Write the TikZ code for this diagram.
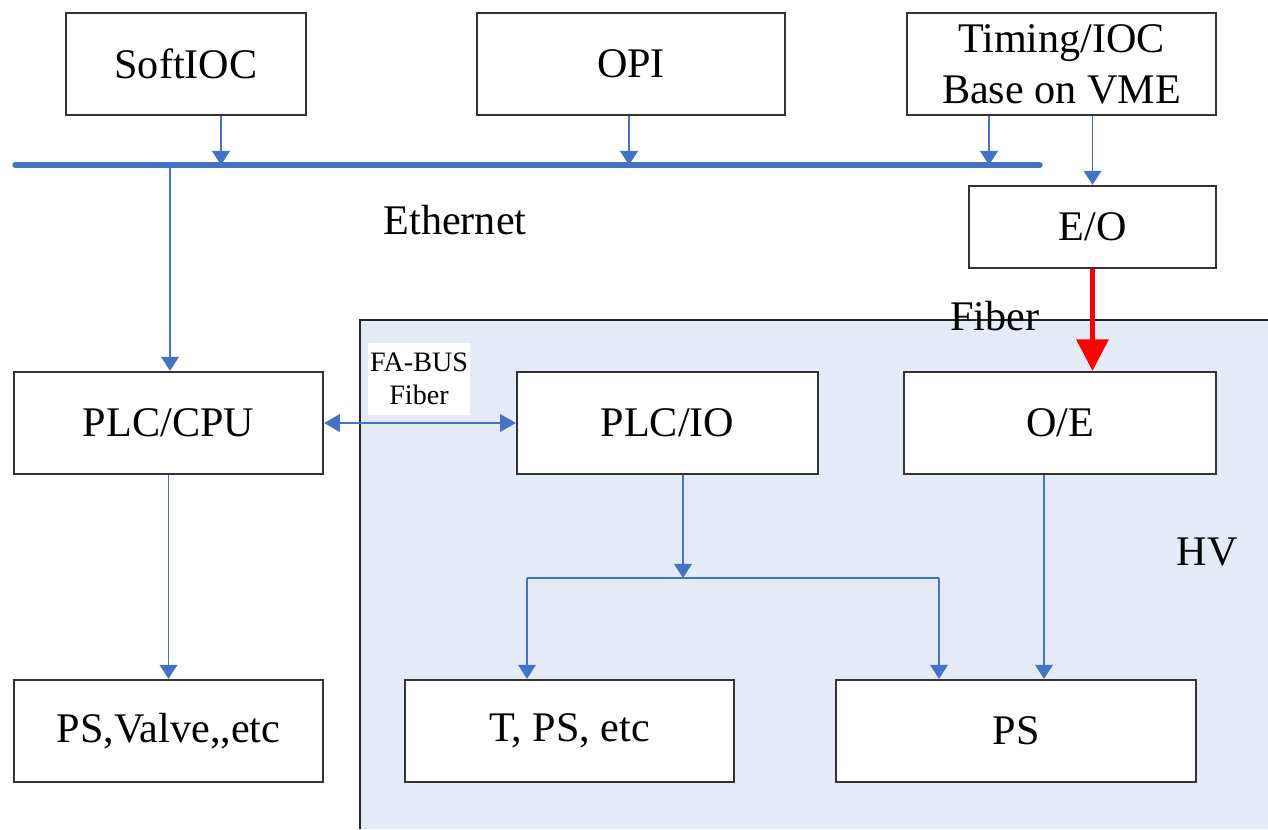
\documentclass[tikz,border=0pt]{standalone}
\usepackage{fontspec}
\setmainfont{Liberation Serif}
\usetikzlibrary{arrows.meta}
\definecolor{linkblue}{RGB}{68,114,196}
\definecolor{hvfill}{RGB}{229,235,246}
\definecolor{fiberred}{RGB}{255,0,0}
\begin{document}
\begin{tikzpicture}[x=0.02cm,y=-0.02cm,
  box/.style={draw=black!80, line width=1.3pt, fill=white, inner sep=0pt,
    font=\fontsize{24}{29}\selectfont, align=center},
  toprow/.style={box, minimum height=2.04cm},
  midrow/.style={box, minimum height=2.04cm},
  label/.style={font=\fontsize{24}{29}\selectfont, inner sep=0pt},
  link/.style={draw=linkblue, line width=1.1pt, -{Triangle[length=8pt,width=10pt]}},
  wire/.style={draw=linkblue, line width=1.1pt},
  dlink/.style={draw=linkblue, line width=1.1pt,
    {Triangle[length=9pt,width=10pt]}-{Triangle[length=9pt,width=10pt]}},
  bus/.style={draw=linkblue, line width=3pt, line cap=round},
  fiberlink/.style={draw=fiberred, line width=2.8pt, -{Triangle[length=18pt,width=18pt]}}
]
\useasboundingbox (0,0) rectangle (1268,829);

% high-voltage area
\fill[hvfill] (360,320) rectangle (1268,829);
\draw[black!85, line width=1.3pt] (1268,320) -- (360,320) -- (360,829);

% top row
\node[toprow, minimum width=4.8cm]  (softioc) at (186,64) {SoftIOC};
\node[toprow, minimum width=6.16cm] (opi)     at (631,64) {OPI};
\node[toprow, minimum width=6.18cm] (timing)  at (1061.5,64) {Timing/IOC\\Base on VME};
\node[box, minimum width=4.94cm, minimum height=1.64cm] (eo) at (1092.5,227) {E/O};

% middle row
\node[midrow, minimum width=6.18cm] (plccpu) at (168.5,423) {PLC/CPU};
\node[midrow, minimum width=6.02cm] (plcio)  at (667.5,423) {PLC/IO};
\node[midrow, minimum width=6.24cm] (oe)     at (1060,423) {O/E};

% bottom row
\node[midrow, minimum width=6.18cm] (psvalve) at (168.5,731) {PS,Valve,{},etc};
\node[midrow, minimum width=6.58cm] (tps)     at (569.5,731) {T, PS, etc};
\node[midrow, minimum width=7.2cm]  (ps)      at (1016,731) {PS};

% Ethernet bus and its taps
\coordinate (busL) at (15,165);
\coordinate (busR) at (1040,165);
\coordinate (tapA) at (221,165);
\coordinate (tapO) at (629,165);
\coordinate (tapT) at (989,165);
\coordinate (tapB) at (170,165);
\draw[bus] (busL) -- (busR);
\draw[link] (softioc.south -| tapA) -- (tapA);
\draw[link] (opi.south -| tapO) -- (tapO);
\draw[link] (timing.south -| tapT) -- (tapT);
\draw[link] (timing.south -| eo.north) -- (eo.north);
\draw[link] (tapB) -- (plccpu.north -| tapB);

% fiber link into the HV area
\draw[fiberlink] (eo.south) -- (oe.north -| eo.south);

% FA-BUS fiber between CPU and IO
\draw[dlink] (plccpu.east) -- (plcio.west);
\node[fill=white, inner sep=0pt, minimum width=2.04cm, minimum height=1.44cm,
  align=center, font=\fontsize{16}{19}\selectfont] (fabus) at (419,379) {FA-BUS\\Fiber};

% outputs
\draw[link] (plccpu.south) -- (psvalve.north);
\coordinate (split) at (683,578);
\coordinate (brL) at (527,578);
\coordinate (brR) at (939,578);
\draw[link] (plcio.south -| split) -- (split);
\draw[wire] (brL) -- (brR);
\draw[link] (brL) -- (tps.north -| brL);
\draw[link] (brR) -- (ps.north -| brR);
\coordinate (oeTap) at (1044,600);
\draw[link] (oe.south -| oeTap) -- (ps.north -| oeTap);

% labels
\node[label] (ethernet) at (455,220) {Ethernet};
\node[label] (fiber) at (995,316) {Fiber};
\node[label] (hv) at (1207,552) {HV};
\end{tikzpicture}
\end{document}
